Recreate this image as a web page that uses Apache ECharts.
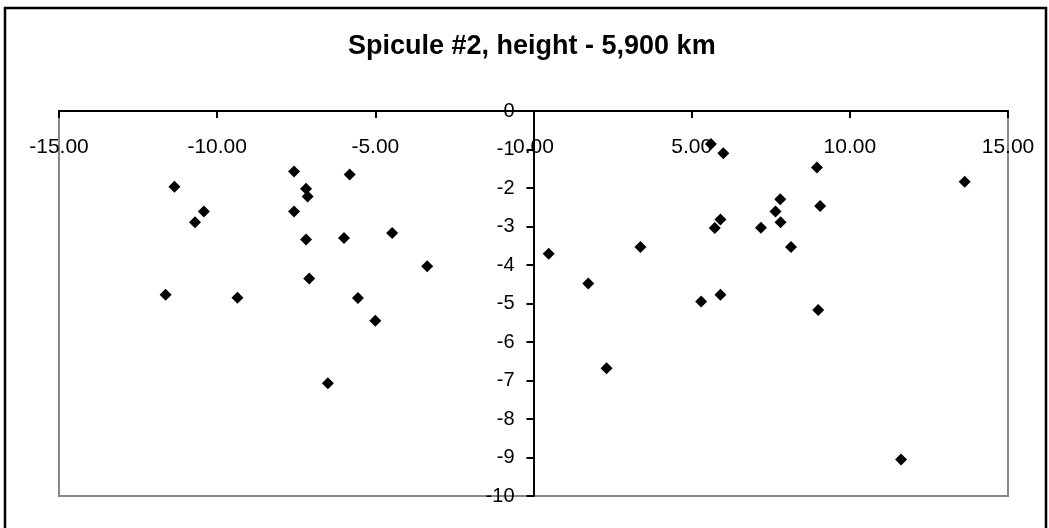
<!DOCTYPE html>
<html>
<head>
<meta charset="utf-8">
<script src="https://cdn.jsdelivr.net/npm/echarts@6/dist/echarts.min.js"></script>
<style>
html,body{margin:0;padding:0;background:#fff;}
#chart{width:1049px;height:528px;}
</style>
</head>
<body>
<div id="chart"></div>
<script>
var titleText = 'Spicule #2, height - 5,900 km';
var xValues = [-11.35, -10.42, -10.70, -11.63, -9.36, -7.57, -7.19, -7.14, -7.57, -7.19, -7.09, -5.81, -5.99, -4.47, -3.36, -5.55, -5.00, -6.50,
               5.61, 6.00, 8.96, 13.63, 7.80, 9.06, 7.65, 5.91, 5.73, 7.19, 7.81, 8.14, 3.38, 0.48, 1.73, 5.30, 5.91, 9.00, 2.31, 11.62];
var yValues = [-1.97, -2.61, -2.89, -4.77, -4.85, -1.57, -2.02, -2.22, -2.61, -3.34, -4.35, -1.65, -3.30, -3.17, -4.03, -4.86, -5.45, -7.07,
               -0.86, -1.10, -1.47, -1.84, -2.29, -2.47, -2.61, -2.82, -3.04, -3.03, -2.89, -3.53, -3.53, -3.71, -4.48, -4.95, -4.77, -5.17, -6.68, -9.05];
var xTicks = {min: -15, max: 15, interval: 5};
var yTicks = {min: -10, max: 0, interval: 1};

var points = xValues.map(function (x, i) { return [x, yValues[i]]; });
var font = "'Liberation Sans', Arial, sans-serif";

var gridLeft = 59, gridRight = 41;
var plotWidth = 1049 - gridLeft - gridRight;
// place the y axis where x = 0, through the axis offset
var yAxisOffset = -plotWidth * (0 - xTicks.min) / (xTicks.max - xTicks.min);

var chart = echarts.init(document.getElementById('chart'), null, {renderer: 'canvas'});
chart.setOption({
  animation: false,
  backgroundColor: '#fff',
  title: {
    text: titleText,
    left: 348,
    top: 33,
    padding: 0,
    textStyle: {fontFamily: font, fontSize: 27, fontWeight: 'bold', color: '#000'}
  },
  graphic: [{
    type: 'rect',
    shape: {x: 5, y: 8, width: 1041, height: 540},
    style: {fill: 'none', stroke: '#000', lineWidth: 2.5},
    silent: true
  }],
  grid: {
    left: gridLeft, right: gridRight, top: 111, bottom: 32,
    show: true, borderColor: '#888', borderWidth: 2, backgroundColor: 'transparent'
  },
  xAxis: {
    type: 'value',
    position: 'top',
    min: xTicks.min, max: xTicks.max, interval: xTicks.interval,
    axisLine: {show: true, onZero: false, lineStyle: {color: '#000', width: 2}},
    axisTick: {show: true, inside: true, length: 7, lineStyle: {color: '#000', width: 2}},
    axisLabel: {
      inside: true, margin: 26, color: '#000', fontFamily: font, fontSize: 21,
      formatter: function (v) { return v.toFixed(2); }
    },
    splitLine: {show: false}
  },
  yAxis: {
    type: 'value',
    position: 'left',
    offset: yAxisOffset,
    min: yTicks.min, max: yTicks.max, interval: yTicks.interval,
    axisLine: {show: true, onZero: false, lineStyle: {color: '#000', width: 2}},
    axisTick: {show: true, inside: false, length: 7, lineStyle: {color: '#000', width: 2}},
    axisLabel: {margin: 19, color: '#000', fontFamily: font, fontSize: 20, padding: [6, 0, 0, 0]},
    splitLine: {show: false}
  },
  series: [{
    type: 'scatter',
    data: points,
    symbol: 'diamond',
    symbolSize: 12,
    itemStyle: {color: '#000', opacity: 1},
    z: 5
  }]
});
</script>
</body>
</html>
